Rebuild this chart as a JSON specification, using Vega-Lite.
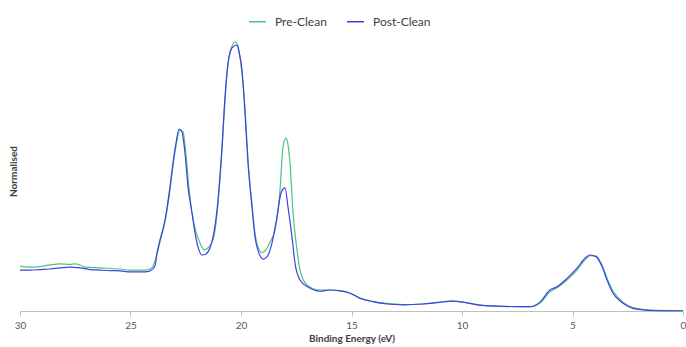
{
  "$schema": "https://vega.github.io/schema/vega-lite/v6.json",
  "width": 663,
  "height": 280,
  "autosize": {"type": "none"},
  "padding": {"left": 20, "top": 31, "right": 3, "bottom": 36},
  "background": "white",
  "config": {
    "view": {"stroke": null},
    "font": "Lato",
    "axis": {"grid": false}
  },
  "data": {"values": [
{"s":"Pre-Clean","be":30.000,"v":0.167},{"s":"Pre-Clean","be":29.548,"v":0.163},{"s":"Pre-Clean","be":29.095,"v":0.165},{"s":"Pre-Clean","be":28.643,"v":0.171},{"s":"Pre-Clean","be":28.190,"v":0.175},{"s":"Pre-Clean","be":27.738,"v":0.173},{"s":"Pre-Clean","be":27.511,"v":0.175},{"s":"Pre-Clean","be":27.285,"v":0.171},{"s":"Pre-Clean","be":27.059,"v":0.163},{"s":"Pre-Clean","be":26.380,"v":0.160},{"s":"Pre-Clean","be":25.475,"v":0.156},{"s":"Pre-Clean","be":25.023,"v":0.152},{"s":"Pre-Clean","be":24.344,"v":0.152},{"s":"Pre-Clean","be":24.118,"v":0.156},{"s":"Pre-Clean","be":23.982,"v":0.167},{"s":"Pre-Clean","be":23.801,"v":0.212},{"s":"Pre-Clean","be":23.665,"v":0.256},{"s":"Pre-Clean","be":23.439,"v":0.331},{"s":"Pre-Clean","be":23.213,"v":0.449},{"s":"Pre-Clean","be":23.077,"v":0.539},{"s":"Pre-Clean","be":22.941,"v":0.613},{"s":"Pre-Clean","be":22.760,"v":0.672},{"s":"Pre-Clean","be":22.624,"v":0.665},{"s":"Pre-Clean","be":22.489,"v":0.579},{"s":"Pre-Clean","be":22.353,"v":0.457},{"s":"Pre-Clean","be":22.217,"v":0.364},{"s":"Pre-Clean","be":22.036,"v":0.293},{"s":"Pre-Clean","be":21.855,"v":0.253},{"s":"Pre-Clean","be":21.674,"v":0.227},{"s":"Pre-Clean","be":21.493,"v":0.234},{"s":"Pre-Clean","be":21.267,"v":0.264},{"s":"Pre-Clean","be":21.086,"v":0.357},{"s":"Pre-Clean","be":20.860,"v":0.598},{"s":"Pre-Clean","be":20.724,"v":0.784},{"s":"Pre-Clean","be":20.588,"v":0.914},{"s":"Pre-Clean","be":20.407,"v":0.984},{"s":"Pre-Clean","be":20.271,"v":1.000},{"s":"Pre-Clean","be":20.136,"v":0.984},{"s":"Pre-Clean","be":20.000,"v":0.914},{"s":"Pre-Clean","be":19.819,"v":0.754},{"s":"Pre-Clean","be":19.683,"v":0.561},{"s":"Pre-Clean","be":19.502,"v":0.394},{"s":"Pre-Clean","be":19.367,"v":0.290},{"s":"Pre-Clean","be":19.231,"v":0.238},{"s":"Pre-Clean","be":19.050,"v":0.217},{"s":"Pre-Clean","be":18.869,"v":0.227},{"s":"Pre-Clean","be":18.688,"v":0.256},{"s":"Pre-Clean","be":18.462,"v":0.301},{"s":"Pre-Clean","be":18.235,"v":0.449},{"s":"Pre-Clean","be":18.100,"v":0.609},{"s":"Pre-Clean","be":17.964,"v":0.642},{"s":"Pre-Clean","be":17.873,"v":0.617},{"s":"Pre-Clean","be":17.783,"v":0.550},{"s":"Pre-Clean","be":17.647,"v":0.364},{"s":"Pre-Clean","be":17.466,"v":0.227},{"s":"Pre-Clean","be":17.330,"v":0.152},{"s":"Pre-Clean","be":17.014,"v":0.097},{"s":"Pre-Clean","be":16.425,"v":0.078},{"s":"Pre-Clean","be":15.973,"v":0.078},{"s":"Pre-Clean","be":15.520,"v":0.076},{"s":"Pre-Clean","be":15.068,"v":0.067},{"s":"Pre-Clean","be":14.615,"v":0.048},{"s":"Pre-Clean","be":14.027,"v":0.035},{"s":"Pre-Clean","be":13.394,"v":0.028},{"s":"Pre-Clean","be":12.670,"v":0.024},{"s":"Pre-Clean","be":11.765,"v":0.026},{"s":"Pre-Clean","be":11.131,"v":0.032},{"s":"Pre-Clean","be":10.407,"v":0.037},{"s":"Pre-Clean","be":9.955,"v":0.033},{"s":"Pre-Clean","be":9.321,"v":0.024},{"s":"Pre-Clean","be":8.733,"v":0.019},{"s":"Pre-Clean","be":8.145,"v":0.017},{"s":"Pre-Clean","be":6.923,"v":0.016},{"s":"Pre-Clean","be":6.471,"v":0.030},{"s":"Pre-Clean","be":6.018,"v":0.071},{"s":"Pre-Clean","be":5.701,"v":0.086},{"s":"Pre-Clean","be":5.249,"v":0.115},{"s":"Pre-Clean","be":4.796,"v":0.152},{"s":"Pre-Clean","be":4.434,"v":0.190},{"s":"Pre-Clean","be":4.208,"v":0.206},{"s":"Pre-Clean","be":3.937,"v":0.204},{"s":"Pre-Clean","be":3.665,"v":0.171},{"s":"Pre-Clean","be":3.439,"v":0.123},{"s":"Pre-Clean","be":3.167,"v":0.074},{"s":"Pre-Clean","be":2.715,"v":0.033},{"s":"Pre-Clean","be":2.262,"v":0.013},{"s":"Pre-Clean","be":1.810,"v":0.006},{"s":"Pre-Clean","be":1.176,"v":0.002},{"s":"Pre-Clean","be":0.000,"v":0.001},
{"s":"Post-Clean","be":30.000,"v":0.152},{"s":"Post-Clean","be":29.548,"v":0.152},{"s":"Post-Clean","be":29.095,"v":0.154},{"s":"Post-Clean","be":28.643,"v":0.156},{"s":"Post-Clean","be":28.190,"v":0.160},{"s":"Post-Clean","be":27.738,"v":0.163},{"s":"Post-Clean","be":27.285,"v":0.160},{"s":"Post-Clean","be":26.833,"v":0.154},{"s":"Post-Clean","be":26.380,"v":0.152},{"s":"Post-Clean","be":25.928,"v":0.150},{"s":"Post-Clean","be":25.475,"v":0.149},{"s":"Post-Clean","be":25.023,"v":0.145},{"s":"Post-Clean","be":24.344,"v":0.145},{"s":"Post-Clean","be":24.118,"v":0.149},{"s":"Post-Clean","be":23.891,"v":0.167},{"s":"Post-Clean","be":23.801,"v":0.215},{"s":"Post-Clean","be":23.665,"v":0.264},{"s":"Post-Clean","be":23.439,"v":0.338},{"s":"Post-Clean","be":23.213,"v":0.461},{"s":"Post-Clean","be":23.077,"v":0.550},{"s":"Post-Clean","be":22.941,"v":0.624},{"s":"Post-Clean","be":22.805,"v":0.676},{"s":"Post-Clean","be":22.670,"v":0.665},{"s":"Post-Clean","be":22.534,"v":0.587},{"s":"Post-Clean","be":22.398,"v":0.461},{"s":"Post-Clean","be":22.217,"v":0.364},{"s":"Post-Clean","be":22.081,"v":0.290},{"s":"Post-Clean","be":21.946,"v":0.238},{"s":"Post-Clean","be":21.765,"v":0.208},{"s":"Post-Clean","be":21.584,"v":0.212},{"s":"Post-Clean","be":21.403,"v":0.234},{"s":"Post-Clean","be":21.222,"v":0.293},{"s":"Post-Clean","be":21.086,"v":0.375},{"s":"Post-Clean","be":20.860,"v":0.609},{"s":"Post-Clean","be":20.724,"v":0.795},{"s":"Post-Clean","be":20.588,"v":0.921},{"s":"Post-Clean","be":20.407,"v":0.977},{"s":"Post-Clean","be":20.181,"v":0.988},{"s":"Post-Clean","be":20.090,"v":0.962},{"s":"Post-Clean","be":19.955,"v":0.895},{"s":"Post-Clean","be":19.819,"v":0.736},{"s":"Post-Clean","be":19.683,"v":0.550},{"s":"Post-Clean","be":19.502,"v":0.386},{"s":"Post-Clean","be":19.367,"v":0.275},{"s":"Post-Clean","be":19.186,"v":0.215},{"s":"Post-Clean","be":19.005,"v":0.193},{"s":"Post-Clean","be":18.824,"v":0.201},{"s":"Post-Clean","be":18.597,"v":0.253},{"s":"Post-Clean","be":18.371,"v":0.349},{"s":"Post-Clean","be":18.190,"v":0.438},{"s":"Post-Clean","be":18.009,"v":0.457},{"s":"Post-Clean","be":17.873,"v":0.386},{"s":"Post-Clean","be":17.692,"v":0.275},{"s":"Post-Clean","be":17.557,"v":0.178},{"s":"Post-Clean","be":17.330,"v":0.115},{"s":"Post-Clean","be":16.968,"v":0.089},{"s":"Post-Clean","be":16.425,"v":0.074},{"s":"Post-Clean","be":15.973,"v":0.078},{"s":"Post-Clean","be":15.520,"v":0.075},{"s":"Post-Clean","be":15.068,"v":0.066},{"s":"Post-Clean","be":14.615,"v":0.047},{"s":"Post-Clean","be":14.027,"v":0.035},{"s":"Post-Clean","be":13.394,"v":0.026},{"s":"Post-Clean","be":12.670,"v":0.023},{"s":"Post-Clean","be":11.765,"v":0.026},{"s":"Post-Clean","be":11.131,"v":0.031},{"s":"Post-Clean","be":10.407,"v":0.037},{"s":"Post-Clean","be":9.955,"v":0.033},{"s":"Post-Clean","be":9.321,"v":0.023},{"s":"Post-Clean","be":8.733,"v":0.019},{"s":"Post-Clean","be":8.145,"v":0.017},{"s":"Post-Clean","be":6.923,"v":0.016},{"s":"Post-Clean","be":6.471,"v":0.033},{"s":"Post-Clean","be":6.018,"v":0.078},{"s":"Post-Clean","be":5.701,"v":0.090},{"s":"Post-Clean","be":5.249,"v":0.121},{"s":"Post-Clean","be":4.796,"v":0.159},{"s":"Post-Clean","be":4.434,"v":0.196},{"s":"Post-Clean","be":4.208,"v":0.208},{"s":"Post-Clean","be":3.937,"v":0.202},{"s":"Post-Clean","be":3.665,"v":0.165},{"s":"Post-Clean","be":3.439,"v":0.115},{"s":"Post-Clean","be":3.167,"v":0.066},{"s":"Post-Clean","be":2.715,"v":0.029},{"s":"Post-Clean","be":2.262,"v":0.010},{"s":"Post-Clean","be":1.810,"v":0.004},{"s":"Post-Clean","be":1.176,"v":0.001},{"s":"Post-Clean","be":0.000,"v":0.001}
  ]},
  "mark": {"type": "line", "interpolate": "monotone", "strokeWidth": 1.2},
  "encoding": {
    "x": {
      "field": "be", "type": "quantitative",
      "scale": {"domain": [0, 30], "reverse": true, "nice": false},
      "axis": {
        "title": "Binding Energy (eV)", "values": [0,5,10,15,20,25,30],
        "labelFlush": false, "labelFontSize": 10, "labelColor": "#595959", "labelPadding": 4,
        "domainColor": "#BFBFBF", "tickColor": "#BFBFBF", "tickSize": 5,
        "titleFontSize": 10, "titleFontWeight": "bold", "titleColor": "#404040", "titlePadding": 3
      }
    },
    "y": {
      "field": "v", "type": "quantitative",
      "scale": {"domain": [0, 1.04], "nice": false, "zero": true},
      "axis": {
        "title": "Normalised", "labels": false, "ticks": false, "domain": false,
        "titleFontSize": 10, "titleFontWeight": "bold", "titleColor": "#404040", "titlePadding": 2
      }
    },
    "color": {
      "field": "s", "type": "nominal",
      "scale": {"domain": ["Pre-Clean", "Post-Clean"], "range": ["#4CC47A", "#3F3FE8"]},
      "legend": {
        "title": null, "orient": "none", "direction": "horizontal",
        "legendX": 228, "legendY": -19,
        "symbolType": "stroke", "symbolSize": 289, "symbolStrokeWidth": 1.5,
        "labelFontSize": 12, "labelColor": "#404040", "labelOffset": 8, "columnPadding": 17
      }
    }
  }
}
